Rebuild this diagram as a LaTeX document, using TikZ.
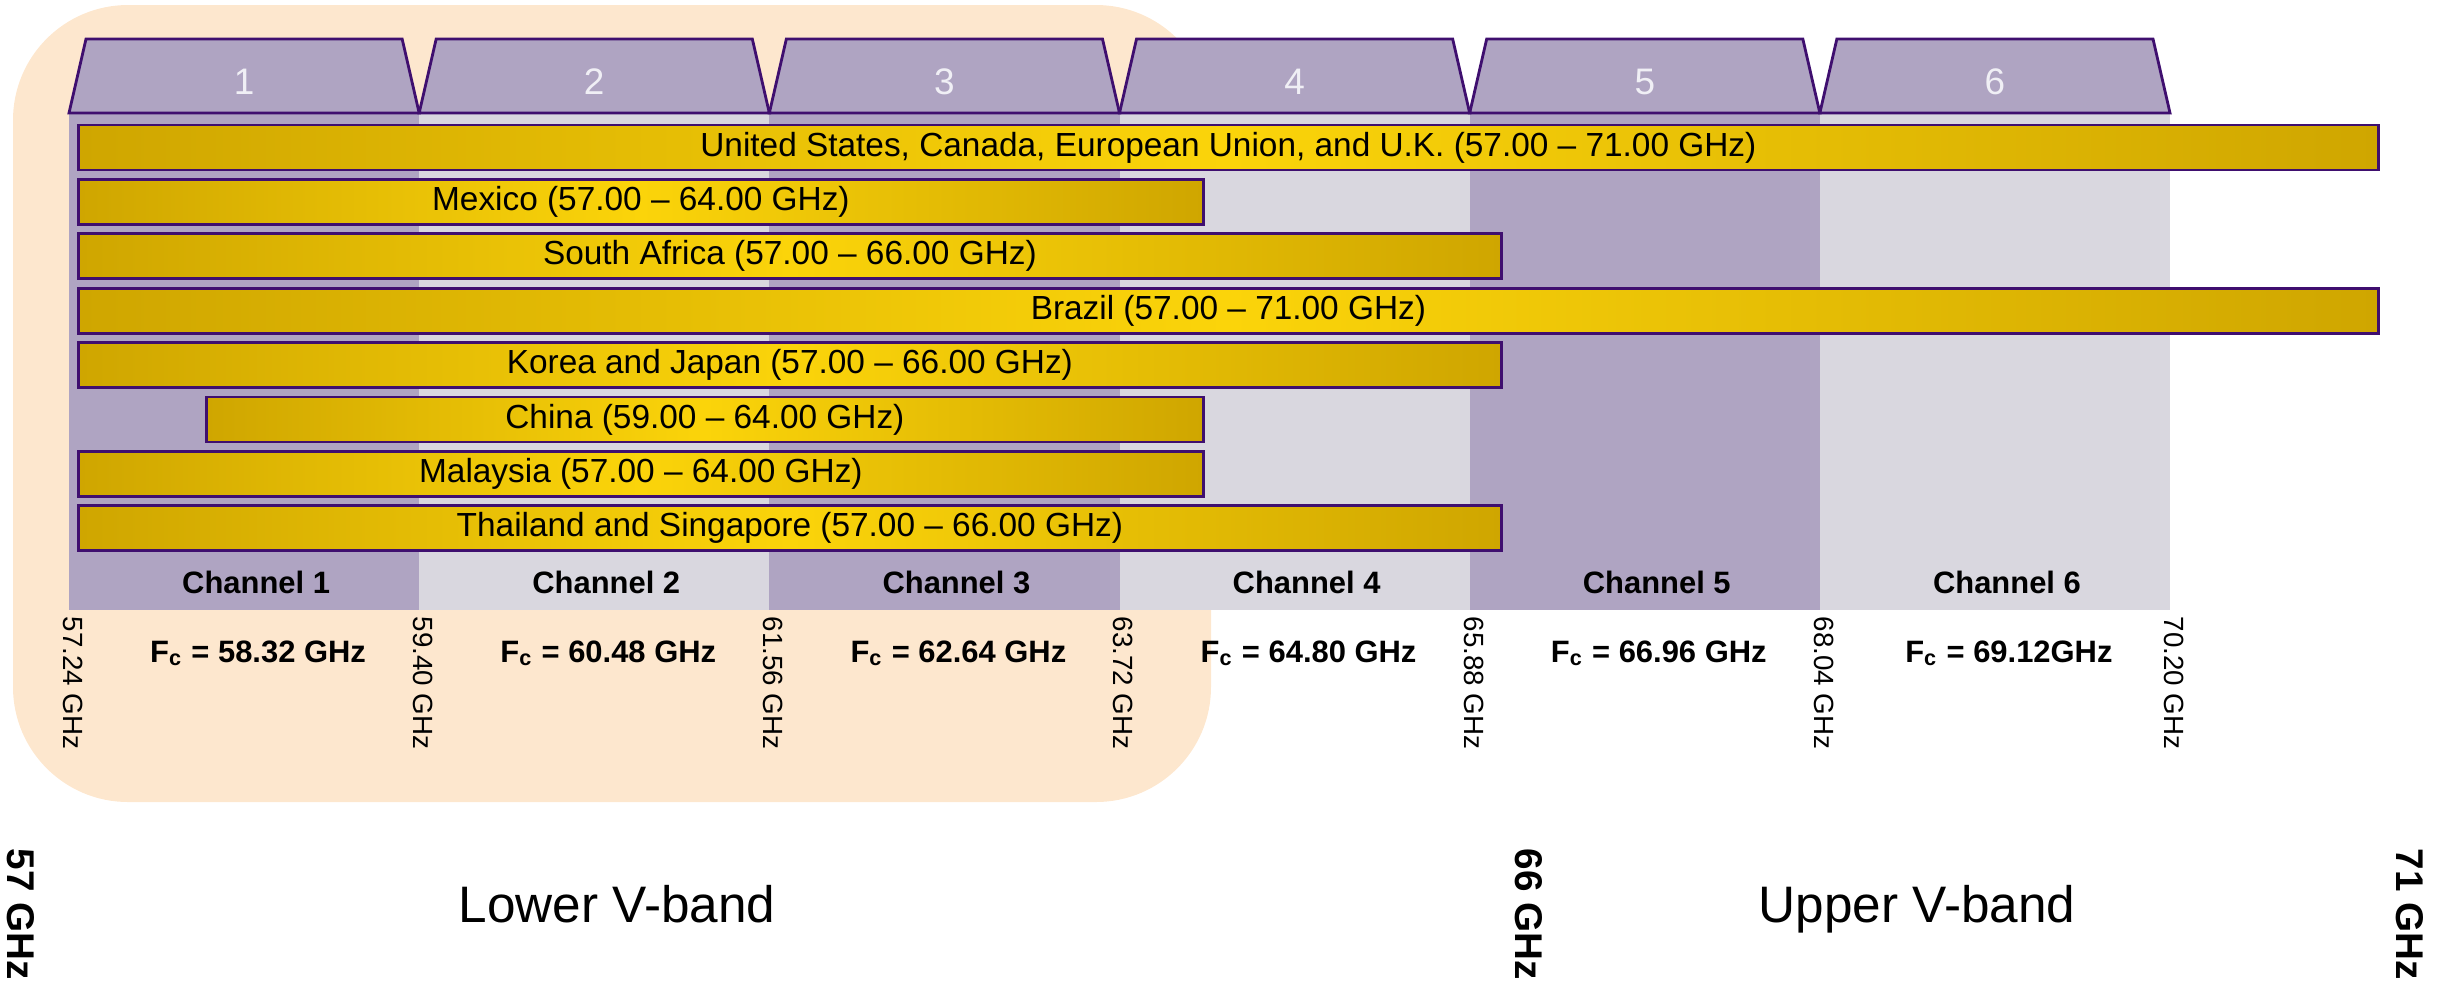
\documentclass[tikz,border=0pt]{standalone}
\usepackage{fontspec}
\setmainfont{Liberation Sans}
\definecolor{mPeach}{HTML}{FDE7CE}
\definecolor{mLavender}{HTML}{AFA4C2}
\definecolor{mMist}{HTML}{D9D7DF}
\definecolor{mPurple}{HTML}{3F0F6F}
\definecolor{mGoldDark}{HTML}{CFA600}
\definecolor{mGoldLight}{HTML}{FBD40A}
\definecolor{mTabText}{HTML}{F0EFF5}
\begin{document}
\begin{tikzpicture}[x=0.1mm, y=-0.1mm,
      tabshape/.style={draw=mPurple, line width=0.8pt, fill=mLavender},
      tabnum/.style={text=mTabText, anchor=base, font=\fontsize{10.5}{12}\selectfont},
      band/.style={draw=mPurple, line width=0.8pt, left color=mGoldDark, right color=mGoldDark,
        middle color=mGoldLight, minimum height=4.5mm, inner sep=0pt, anchor=west,
        font=\fontsize{9.5}{11}\selectfont},
      chlbl/.style={anchor=base, font=\bfseries\fontsize{8.8}{10}\selectfont},
      fclbl/.style={anchor=base, font=\bfseries\fontsize{8.8}{10}\selectfont},
      freq/.style={rotate=-90, anchor=west, inner sep=0pt, font=\fontsize{7.9}{9}\selectfont},
      bandedge/.style={rotate=-90, anchor=west, inner sep=0pt, font=\bfseries\fontsize{11}{12}\selectfont},
      bandname/.style={anchor=base, font=\fontsize{14.6}{16}\selectfont}]
    \useasboundingbox (0,0) rectangle (2450,985);
    \fill[mPeach, rounded corners=11.5mm] (13,5) rectangle (1211,802);
    \foreach \i/\c in {1/mLavender, 2/mMist, 3/mLavender, 4/mMist, 5/mLavender, 6/mMist}
      \fill[\c] ({69+350.17*(\i-1)},113) rectangle ({69+350.17*\i},610);
    \foreach \i in {1,...,6} {
      \draw[tabshape] ({69+350.17*(\i-1)},113) -- ({86+350.17*(\i-1)},39)
        -- ({52+350.17*\i},39) -- ({69+350.17*\i},113) -- cycle;
      \node[tabnum] (tab\i) at ({69+350.17*(\i-0.5)},94) {\i};
      \node[chlbl] (ch\i) at ({81+350.17*(\i-0.5)},593) {Channel \i};
    }
    \foreach \n/\k/\l/\w/\t in {us/0/77/230/{United States, Canada, European Union, and U.K. (57.00 – 71.00 GHz)},
        mexico/1/77/112.5/{Mexico (57.00 – 64.00 GHz)},
        safrica/2/77/142.3/{South Africa (57.00 – 66.00 GHz)},
        brazil/3/77/230/{Brazil (57.00 – 71.00 GHz)},
        korea/4/77/142.3/{Korea and Japan (57.00 – 66.00 GHz)},
        china/5/205/99.7/{China (59.00 – 64.00 GHz)},
        malaysia/6/77/112.5/{Malaysia (57.00 – 64.00 GHz)},
        thailand/7/77/142.3/{Thailand and Singapore (57.00 – 66.00 GHz)}}
      \node[band, minimum width=\w mm] (\n) at (\l,{147.5+54.4*\k}) {\t};
    \foreach \i/\f in {1/58.32 GHz, 2/60.48 GHz, 3/62.64 GHz, 4/64.80 GHz, 5/66.96 GHz, 6/69.12GHz}
      \node[fclbl] (fc\i) at ({83+350.17*(\i-0.5)},662) {F\textsubscript{c} = \f};
    \foreach \i/\f in {0/57.24, 1/59.40, 2/61.56, 3/63.72, 4/65.88, 5/68.04, 6/70.20}
      \node[freq] (f\i) at ({73+350.17*\i},616) {\f\ GHz};
    \foreach \x/\t in {21/57, 1529/66, 2410/71}
      \node[bandedge] (e\t) at (\x,848) {\t\ GHz};
    \node[bandname] (lower) at (617,922) {Lower V-band};
    \node[bandname] (upper) at (1917,922) {Upper V-band};
  \end{tikzpicture}
\end{document}
